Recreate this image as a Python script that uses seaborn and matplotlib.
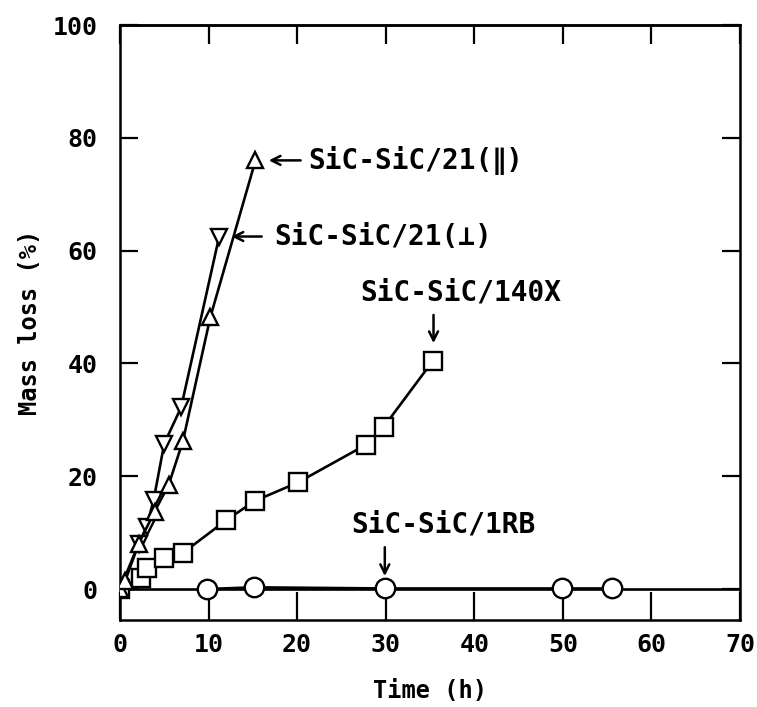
import matplotlib
matplotlib.use("Agg")
import matplotlib.pyplot as plt
import seaborn as sns
import pandas as pd

# Data
par_time = [0, 0.6, 2.1, 3.9, 5.5, 7.1, 10.2, 15.3]
par_loss = [0, 1.5, 8.0, 13.7, 18.5, 26.2, 48.2, 76.0]

perp_time = [0, 2.1, 3.0, 3.8, 5.0, 6.9, 11.2]
perp_loss = [0, 8.0, 11.0, 15.8, 25.8, 32.2, 62.5]

x140_time = [0, 2.4, 3.1, 5.0, 7.1, 12.0, 15.2, 20.1, 27.8, 29.8, 35.3]
x140_loss = [0, 2.0, 3.8, 5.5, 6.4, 12.2, 15.6, 18.9, 25.6, 28.8, 40.4]

rb_time = [9.8, 15.1, 29.9, 49.9, 55.6]
rb_loss = [0.0, 0.3, 0.1, 0.1, 0.1]

x_ticks = [0, 10, 20, 30, 40, 50, 60, 70]
y_ticks = [0, 20, 40, 60, 80, 100]

sns.set_style("ticks")
plt.rcParams["font.family"] = ["DejaVu Sans Mono", "DejaVu Sans"]
plt.rcParams["font.weight"] = "bold"
plt.rcParams.update({"text.color": "black", "axes.labelcolor": "black",
                     "axes.edgecolor": "black", "xtick.color": "black",
                     "ytick.color": "black"})

fig = plt.figure(figsize=(7.57, 7.07), dpi=100)
ax = fig.add_axes([0.1585, 0.123, 0.819, 0.8416])

ax.axhline(0, color="black", lw=1.9, zorder=1)

series = [
    (rb_time, rb_loss, "o", 14),
    (x140_time, x140_loss, "s", 13),
    (perp_time, perp_loss, "v", 12),
    (par_time, par_loss, "^", 12),
]
for t, m, mk, ms in series:
    df = pd.DataFrame({"t": t, "m": m})
    sns.lineplot(data=df, x="t", y="m", ax=ax, sort=False, estimator=None,
                 color="black", lw=1.9, marker=mk, ms=ms, mfc="white",
                 mec="black", mew=1.7, zorder=3)

ax.set_xlim(0, 70)
ax.set_ylim(-5.5, 100)
ax.set_xticks(x_ticks)
ax.set_yticks(y_ticks)
ax.tick_params(axis="both", direction="in", width=1.6, labelsize=18,
               top=False, right=True)
ax.tick_params(axis="x", length=20, pad=9)
ax.tick_params(axis="y", length=13, pad=16)
secx = ax.secondary_xaxis("top")
secx.set_xticks(x_ticks)
secx.tick_params(direction="in", length=14, width=1.6, labeltop=False)
for s in ax.spines.values():
    s.set_linewidth(1.8)
secx.spines["top"].set_linewidth(1.8)

for lab in ax.get_xticklabels() + ax.get_yticklabels():
    lab.set_fontweight("bold")

ax.set_xlabel("Time (h)", fontsize=17, fontweight="bold", labelpad=16)
ax.set_ylabel("Mass loss (%)", fontsize=17, fontweight="bold", labelpad=8)

fs = 20
arr = dict(arrowstyle="->", lw=1.8, color="black", mutation_scale=16,
           shrinkA=0, shrinkB=0)
# parallel
ax.annotate("", xy=(16.8, 76.0), xytext=(20.4, 76.0), arrowprops=arr)
ax.text(21.3, 76.0, "SiC-SiC/21(∥)", fontsize=fs, fontweight="bold",
        ha="left", va="center")
# perpendicular
ax.annotate("", xy=(12.6, 62.5), xytext=(16.0, 62.5), arrowprops=arr)
ax.text(17.4, 62.5, "SiC-SiC/21(⊥)", fontsize=fs, fontweight="bold",
        ha="left", va="center")
# 140X
ax.text(38.5, 52.5, "SiC-SiC/140X", fontsize=fs, fontweight="bold",
        ha="center", va="center")
ax.annotate("", xy=(35.4, 43.6), xytext=(35.4, 48.6), arrowprops=arr)
# 1RB
ax.text(36.5, 11.4, "SiC-SiC/1RB", fontsize=fs, fontweight="bold",
        ha="center", va="center")
ax.annotate("", xy=(29.9, 2.3), xytext=(29.9, 7.4), arrowprops=arr)

fig.savefig("out.png", dpi=100)
